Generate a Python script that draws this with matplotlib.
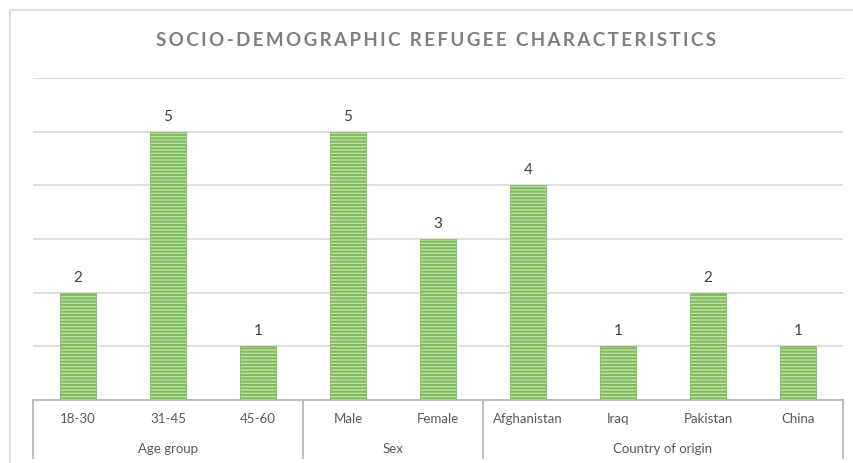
import matplotlib
matplotlib.use("Agg")
import matplotlib.pyplot as plt

categories = ["18-30", "31-45", "45-60", "Male", "Female",
              "Afghanistan", "Iraq", "Pakistan", "China"]
values = [2, 5, 1, 5, 3, 4, 1, 2, 1]
groups = ["Age group", "Sex", "Country of origin"]
group_sizes = [3, 2, 4]
title = "SOCIO-DEMOGRAPHIC REFUGEE CHARACTERISTICS"

plt.rcParams['font.family'] = ['Lato', 'DejaVu Sans']
plt.rcParams['hatch.color'] = '#62a53c'
plt.rcParams['hatch.linewidth'] = 1.4

W, H = 854, 463
fig = plt.figure(figsize=(W / 100, H / 100), dpi=100)
fig.patch.set_facecolor('white')

# outer chart border
fig.add_artist(plt.Line2D([10 / W, 10 / W], [0, 1 - 10 / H], color='#d9d9d9', lw=1.2))
fig.add_artist(plt.Line2D([10 / W, 1], [1 - 10 / H, 1 - 10 / H], color='#d9d9d9', lw=1.2))

left, right, top, bottom = 33, 843, 78, 400
ax = fig.add_axes([left / W, 1 - bottom / H, (right - left) / W, (bottom - top) / H])
x = list(range(len(categories)))
ax.bar(x, values, width=0.39, color='#bfe0a8', edgecolor='#7fbc5a', linewidth=0.6,
       hatch='-----', zorder=3)
for xi, v in zip(x, values):
    ax.text(xi, v + 0.15, str(v), ha='center', va='bottom', fontsize=11,
            color='#404040')

ax.set_xlim(-0.5, len(categories) - 0.5)
ax.set_ylim(0, 6)
ax.set_yticks(range(0, 7))
ax.yaxis.grid(True, color='#d9d9d9', lw=1.2, zorder=0)
ax.set_yticklabels([])
ax.tick_params(axis='y', length=0)
ax.set_xticks([])
for s in ['top', 'right', 'left']:
    ax.spines[s].set_visible(False)
ax.spines['bottom'].set_color('#bfbfbf')
ax.spines['bottom'].set_linewidth(1.5)

trans = ax.get_xaxis_transform()
axh = bottom - top
y_cat = -19 / axh
y_grp = -49 / axh
y_end = -58 / axh
for xi, c in zip(x, categories):
    ax.text(xi, y_cat, c, transform=trans, ha='center', va='center',
            fontsize=9.5, color='#595959')
start = 0
bounds = [-0.5]
for g, n in zip(groups, group_sizes):
    mid = start + (n - 1) / 2
    ax.text(mid, y_grp, g, transform=trans, ha='center', va='center',
            fontsize=9.5, color='#595959')
    start += n
    bounds.append(start - 0.5)
for b in bounds:
    ax.plot([b, b], [0, y_end], transform=trans, color='#bfbfbf', lw=1.5,
            clip_on=False)

fig.text(436 / W, 1 - 40 / H, "\u2009".join(title), ha='center', va='center',
         fontsize=13.5, fontweight='bold', color='#7f7f7f')

fig.savefig('out.png', dpi=100)
